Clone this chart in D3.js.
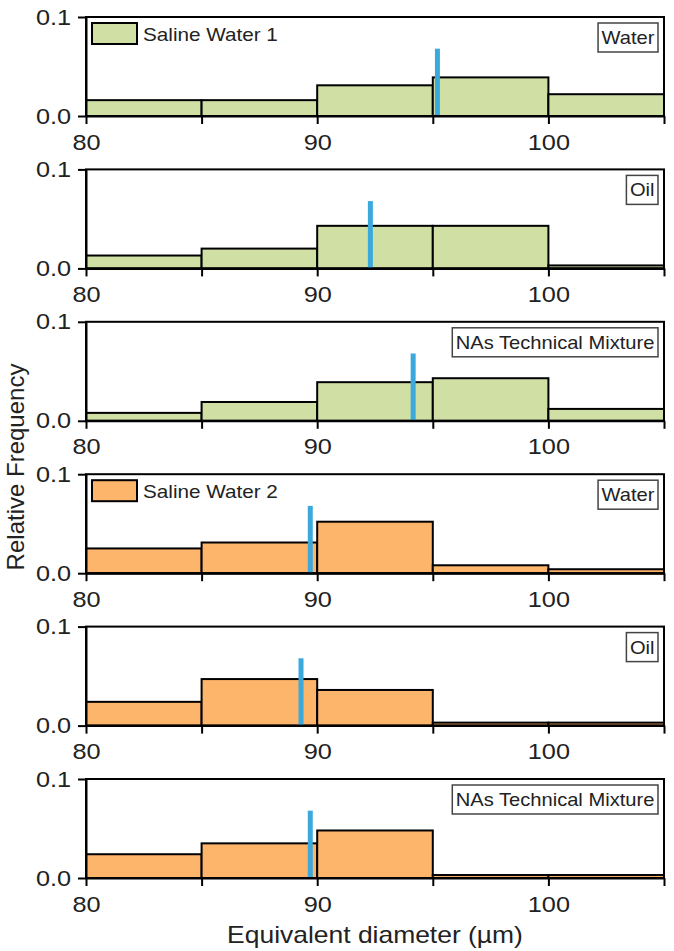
<!DOCTYPE html>
<html>
<head>
<meta charset="utf-8">
<script src="https://cdn.jsdelivr.net/npm/d3@7"></script>
<style>
    body { margin: 0; background: #fff; }
    svg { display: block; font-family: "Liberation Sans", Arial, sans-serif; }
    .axis path, .axis line { stroke: #000; stroke-width: 2px; }
    .axis text { fill: #222; font-size: 22px; }
</style>
</head>
<body>
<svg id="chart"></svg>
<script>
// bin edges of the histograms (um)
var binEdges = [80, 85, 90, 95, 100, 105];
var xTickMarks = [80, 85, 90, 95, 100, 105];
var xTickLabels = [80, 90, 100];
var yTicks = [0, 0.1];

var groupNames = ["Saline Water 1", "Saline Water 2"];
var panelLabels = ["Water", "Oil", "NAs Technical Mixture", "Water", "Oil", "NAs Technical Mixture"];
var panelGroup = [0, 0, 0, 1, 1, 1];

// relative frequency per bin
var sw1Water = [0.016, 0.016, 0.031, 0.039, 0.022];
var sw1Oil = [0.013, 0.020, 0.043, 0.043, 0.003];
var sw1NAs = [0.008, 0.019, 0.039, 0.043, 0.012];
var sw2Water = [0.025, 0.031, 0.052, 0.008, 0.004];
var sw2Oil = [0.024, 0.047, 0.036, 0.003, 0.003];
var sw2NAs = [0.024, 0.035, 0.048, 0.003, 0.003];
var panelValues = [sw1Water, sw1Oil, sw1NAs, sw2Water, sw2Oil, sw2NAs];

// mean diameter markers (blue)
var meanDiameter = [95.2, 92.3, 94.15, 89.7, 89.3, 89.7];
var meanMarkerHeight = [0.068, 0.068, 0.068, 0.068, 0.068, 0.068];

var W = 674, H = 951;
var groupColors = ["#d0e0a4", "#fdb46b"];
var markerColor = "#3ba9dc";
var stretch = 1.15;

var svg = d3.select("#chart").attr("width", W).attr("height", H);

var margin = {left: 86, right: 10, top: 17},
    plotH = 99,
    step = 152.4;

var x = d3.scaleLinear()
    .domain([binEdges[0], binEdges[binEdges.length - 1]])
    .range([margin.left, W - margin.right]);

panelValues.forEach(function (vals, i) {
    var top = margin.top + i * step;
    var y = d3.scaleLinear().domain([0, 0.1]).range([top + plotH, top]);
    var color = groupColors[panelGroup[i]];
    var g = svg.append("g").attr("class", "panel");

    // bars
    g.selectAll("rect.bar")
        .data(vals)
        .enter().append("rect")
        .attr("class", "bar")
        .attr("x", function (d, j) { return x(binEdges[j]); })
        .attr("width", function (d, j) { return x(binEdges[j + 1]) - x(binEdges[j]); })
        .attr("y", function (d) { return y(d); })
        .attr("height", function (d) { return y(0) - y(d); })
        .style("fill", color)
        .style("stroke", "#000")
        .style("stroke-width", 2);

    // mean marker
    g.append("rect")
        .attr("x", x(meanDiameter[i]) - 2.5)
        .attr("width", 5)
        .attr("y", y(meanMarkerHeight[i]))
        .attr("height", y(0) - y(meanMarkerHeight[i]))
        .style("fill", markerColor);

    // frame
    g.append("rect")
        .attr("x", x.range()[0])
        .attr("y", y(0.1))
        .attr("width", x.range()[1] - x.range()[0])
        .attr("height", y(0) - y(0.1))
        .style("fill", "none")
        .style("stroke", "#000")
        .style("stroke-width", 2);

    var xAxis = g.append("g")
        .attr("class", "axis")
        .attr("transform", "translate(0," + y(0) + ")")
        .call(d3.axisBottom(x)
            .tickValues(xTickMarks)
            .tickSize(8)
            .tickSizeOuter(0)
            .tickPadding(10)
            .tickFormat(function (d) { return xTickLabels.indexOf(d) > -1 ? d : ""; }));
    xAxis.selectAll("text").attr("transform", "scale(" + stretch + ",1)");

    var yAxis = g.append("g")
        .attr("class", "axis")
        .attr("transform", "translate(" + x.range()[0] + ",0)")
        .call(d3.axisLeft(y)
            .tickValues(yTicks)
            .tickSize(8)
            .tickSizeOuter(0)
            .tickPadding(5)
            .tickFormat(d3.format(".1f")));
    yAxis.selectAll("text").attr("transform", "scale(" + stretch + ",1)");

    // label box, top right
    var lab = g.append("g");
    var labText = lab.append("text")
        .style("font-size", "17.5px")
        .style("fill", "#222")
        .text(panelLabels[i]);
    var tw = labText.node().getComputedTextLength() * stretch;
    var bx = x.range()[1] - 6 - tw - 7;
    lab.attr("transform", "translate(" + bx + "," + (top + 6) + ")");
    lab.insert("rect", "text")
        .attr("width", tw + 7)
        .attr("height", 29)
        .style("fill", "#fff")
        .style("stroke", "#444")
        .style("stroke-width", 1.5);
    labText.attr("transform", "translate(3.5,21) scale(" + stretch + ",1)");

    // group legend on first panel of each group
    if (i === 0 || panelGroup[i] !== panelGroup[i - 1]) {
        var leg = g.append("g").attr("transform", "translate(" + (x.range()[0] + 6) + "," + (top + 6) + ")");
        leg.append("rect")
            .attr("width", 45)
            .attr("height", 21)
            .style("fill", color)
            .style("stroke", "#000")
            .style("stroke-width", 2);
        leg.append("text")
            .attr("transform", "translate(51,18) scale(" + stretch + ",1)")
            .style("font-size", "18px")
            .style("fill", "#222")
            .text(groupNames[panelGroup[i]]);
    }
});

// axis titles
svg.append("text")
    .attr("transform", "translate(375,943) scale(" + stretch + ",1)")
    .attr("text-anchor", "middle")
    .style("font-size", "23px")
    .style("fill", "#222")
    .text("Equivalent diameter (µm)");

svg.append("text")
    .attr("transform", "translate(24,467) rotate(-90)")
    .attr("text-anchor", "middle")
    .style("font-size", "24px")
    .style("fill", "#222")
    .text("Relative Frequency");
</script>
</body>
</html>
